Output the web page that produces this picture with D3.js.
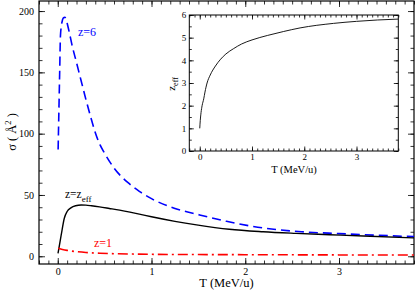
<!DOCTYPE html>
<html>
<head>
<meta charset="utf-8">
<script src="https://cdn.jsdelivr.net/npm/d3@7"></script>
<style>
  body { margin: 0; background: #fff; }
  svg { display: block; font-family: "Liberation Serif", "DejaVu Serif", serif; }
</style>
</head>
<body>
<svg id="chart" width="416" height="291"></svg>
<script>
// sigma (A^2) vs T (MeV/u)
const z6T   = [0.004, 0.01, 0.02, 0.029, 0.045, 0.06, 0.075, 0.09, 0.11, 0.125, 0.15, 0.2, 0.25, 0.3, 0.35, 0.4, 0.45, 0.5, 0.6, 0.75, 0.87, 1.0, 1.25, 1.5, 1.8, 2.2, 2.6, 3.0, 3.4, 3.8];
const z6S   = [87, 110, 148, 180, 191, 194.5, 195, 193, 187, 182, 173, 158, 143, 128, 114, 101, 91, 84, 72, 60, 53, 47, 39, 34, 28.5, 23, 20, 18.5, 17.2, 16];
const zeffT = [0.003, 0.02, 0.036, 0.07, 0.1, 0.14, 0.19, 0.25, 0.3, 0.36, 0.445, 0.55, 0.66, 0.77, 0.87, 1.0, 1.25, 1.48, 1.83, 2.19, 2.54, 2.9, 3.26, 3.8];
const zeffS = [2.4, 10, 17, 31, 36.5, 39.5, 41.2, 41.8, 41.7, 41.2, 40.3, 39, 37.6, 36, 34.4, 32.2, 28.5, 25.6, 22, 20, 18.7, 17.6, 16.5, 15];
const z1T   = [0.005, 0.05, 0.1, 0.2, 0.3, 0.45, 0.6, 0.8, 1.0, 1.5, 2.0, 3.0, 3.8];
const z1S   = [6.5, 5.6, 4.8, 3.8, 3.1, 2.5, 2.1, 1.8, 1.6, 1.4, 1.3, 1.1, 1.0];
// inset: effective charge vs T
const insetT = [0, 0.01, 0.025, 0.045, 0.076, 0.1, 0.14, 0.2, 0.3, 0.4, 0.5, 0.65, 0.8, 1.0, 1.3, 1.6, 1.92, 2.56, 3.0, 3.4, 3.8];
const insetZ = [1.0, 1.35, 1.7, 2.0, 2.3, 2.6, 3.0, 3.35, 3.75, 4.05, 4.28, 4.52, 4.72, 4.9, 5.1, 5.27, 5.43, 5.63, 5.72, 5.78, 5.82];

const xTicks = [0, 1, 2, 3];
const yTicks = [0, 50, 100, 150, 200];
const insetYTicks = [0, 1, 2, 3, 4, 5, 6];

const FONT = '"Liberation Serif", "DejaVu Serif", serif';
const svg = d3.select('#chart');

const range = (a, b, s) => d3.range(Math.round((b - a) / s) + 1).map(i => +(a + i * s).toFixed(4));

// framed panel with inward ticks on all four sides, labels only bottom/left
function panel(g, x, y, opts) {
  const [x0, x1] = x.range();
  const [y0, y1] = y.range();
  g.append('rect')
    .attr('x', x0).attr('y', y1)
    .attr('width', x1 - x0).attr('height', y0 - y1)
    .attr('fill', '#fff');

  const sides = [
    {make: () => d3.axisBottom(x), tr: `translate(0,${y0})`, vals: opts.xTicks, minor: opts.xMinor, lab: true, pad: opts.xPad},
    {make: () => d3.axisTop(x), tr: `translate(0,${y1})`, vals: opts.xTicks, minor: opts.xMinor, lab: false, pad: 0},
    {make: () => d3.axisLeft(y), tr: `translate(${x0},0)`, vals: opts.yTicks, minor: opts.yMinor, lab: true, pad: opts.yPad},
    {make: () => d3.axisRight(y), tr: `translate(${x1},0)`, vals: opts.yTicks, minor: opts.yMinor, lab: false, pad: 0}
  ];
  sides.forEach(s => {
    g.append('g').attr('transform', s.tr)
      .call(s.make().tickValues(s.minor).tickFormat('').tickSize(-opts.minorLen))
      .call(a => a.select('.domain').remove())
      .call(a => a.selectAll('line').attr('stroke', '#000').attr('stroke-width', 0.8));
    const major = g.append('g').attr('transform', s.tr)
      .call(s.make().tickValues(s.vals).tickSize(-opts.majorLen).tickPadding(s.pad)
        .tickFormat(s.lab ? d3.format('d') : ''))
      .call(a => a.select('.domain').remove());
    major.selectAll('line').attr('stroke', '#000').attr('stroke-width', 0.8);
    major.selectAll('text')
      .attr('font-family', FONT)
      .attr('font-size', opts.fontSize).attr('fill', '#000');
  });

  g.append('rect')
    .attr('x', x0).attr('y', y1)
    .attr('width', x1 - x0).attr('height', y0 - y1)
    .attr('fill', 'none').attr('stroke', '#000').attr('stroke-width', opts.frameWidth);
}

// main panel
const x = d3.scaleLinear().domain([-0.2, 3.8]).range([39, 414]);
const y = d3.scaleLinear().domain([-6.3, 208.2]).range([264, 1]);

const main = svg.append('g').attr('font-family', FONT);
panel(main, x, y, {
  xTicks, yTicks,
  xMinor: range(-0.2, 3.8, 0.1), yMinor: range(0, 200, 10),
  majorLen: 6, minorLen: 3.5, xPad: 4, yPad: 5, fontSize: 10, frameWidth: 1.2
});

const line = d3.line().x(d => x(d[0])).y(d => y(d[1])).curve(d3.curveMonotoneX);

main.append('path')
  .datum(z6T.map((t, i) => [t, z6S[i]]))
  .attr('d', line).attr('fill', 'none')
  .attr('stroke', '#0000ff').attr('stroke-width', 1.6).attr('stroke-dasharray', '9,5');
main.append('path')
  .datum(zeffT.map((t, i) => [t, zeffS[i]]))
  .attr('d', line).attr('fill', 'none')
  .attr('stroke', '#000').attr('stroke-width', 1.4);
main.append('path')
  .datum(z1T.map((t, i) => [t, z1S[i]]))
  .attr('d', line).attr('fill', 'none')
  .attr('stroke', '#ff0000').attr('stroke-width', 1.6).attr('stroke-dasharray', '10,4,2,4');

// curve labels
main.append('text').attr('x', 78).attr('y', 36)
  .attr('font-size', 12).attr('fill', '#0000ff').text('z=6');
const zl = main.append('text').attr('x', 65).attr('y', 197.5)
  .attr('font-size', 11.5).attr('fill', '#000');
zl.append('tspan').text('z=z');
zl.append('tspan').attr('dy', 4).attr('font-size', 9).text('eff');
main.append('text').attr('x', 94).attr('y', 247)
  .attr('font-size', 12).attr('fill', '#ff0000').text('z=1');

// axis titles
main.append('text').attr('x', 226.5).attr('y', 287)
  .attr('text-anchor', 'middle').attr('font-size', 12.5).text('T (MeV/u)');
const yl = main.append('text')
  .attr('transform', 'translate(16,132) rotate(-90)')
  .attr('text-anchor', 'middle').attr('font-size', 12.5);
yl.append('tspan').text('σ ( Å');
yl.append('tspan').attr('dy', -5).attr('font-size', 8.5).text('2');
yl.append('tspan').attr('dy', 5).text(' )');

// inset panel
const xi = d3.scaleLinear().domain([-0.2, 3.8]).range([189.3, 398.3]);
const yi = d3.scaleLinear().domain([0, 6]).range([151, 15]);

const inset = svg.append('g').attr('font-family', FONT);
panel(inset, xi, yi, {
  xTicks, yTicks: insetYTicks,
  xMinor: range(-0.2, 3.8, 0.1), yMinor: range(0, 6, 0.5),
  majorLen: 4.5, minorLen: 2.5, xPad: 3, yPad: 3, fontSize: 9, frameWidth: 1
});

inset.append('path')
  .datum(insetT.map((t, i) => [t, insetZ[i]]))
  .attr('d', d3.line().x(d => xi(d[0])).y(d => yi(d[1])).curve(d3.curveMonotoneX))
  .attr('fill', 'none').attr('stroke', '#000').attr('stroke-width', 0.9);

inset.append('text').attr('x', 294).attr('y', 173)
  .attr('text-anchor', 'middle').attr('font-size', 10.5).text('T (MeV/u)');
const il = inset.append('text')
  .attr('transform', 'translate(175,84) rotate(-90)')
  .attr('text-anchor', 'middle').attr('font-size', 11);
il.append('tspan').text('z');
il.append('tspan').attr('dy', 3).attr('font-size', 8).text('eff');
</script>
</body>
</html>
